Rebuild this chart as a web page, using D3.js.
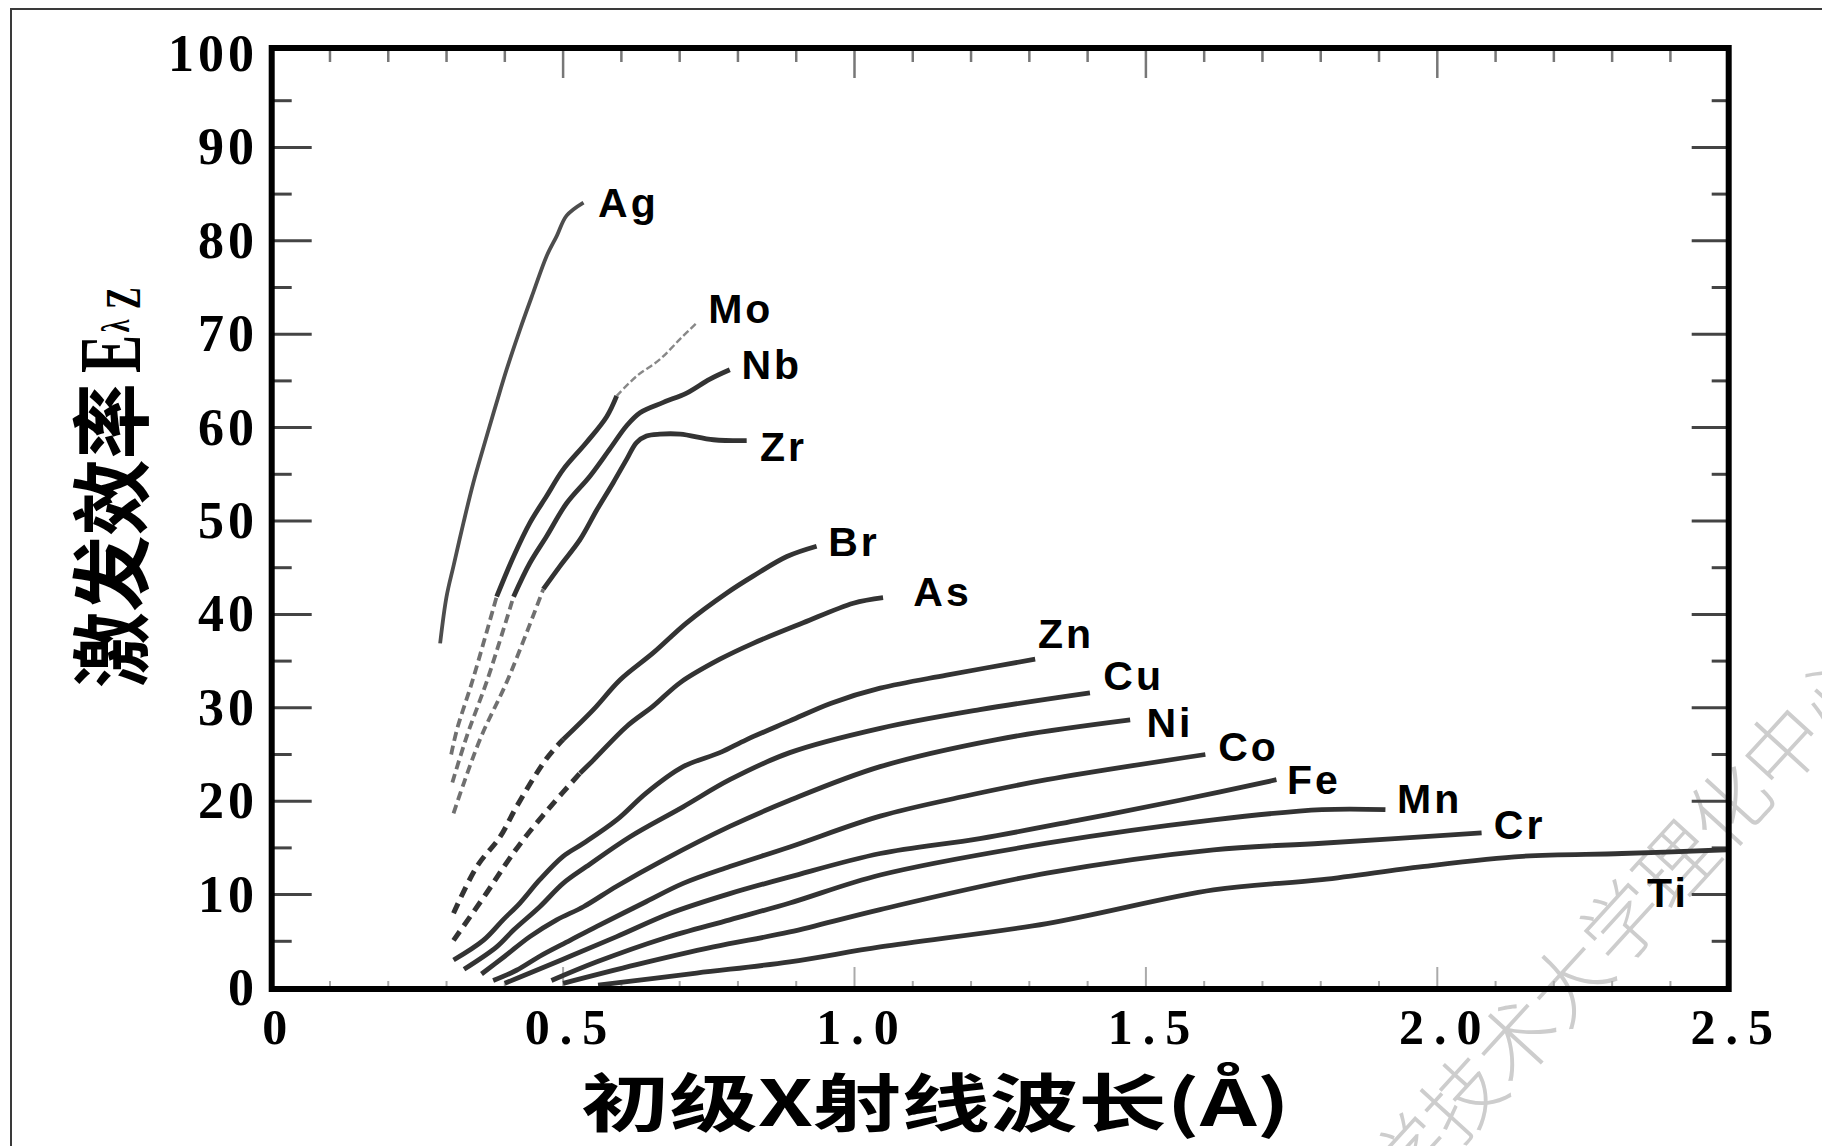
<!DOCTYPE html>
<html>
<head>
<meta charset="utf-8">
<script src="https://cdn.jsdelivr.net/npm/d3@7"></script>
<style>
body{margin:0;background:#fff}
svg{display:block}
</style>
</head>
<body>
<svg id="chart" width="1822" height="1146"></svg>
<script>
// element symbols, in the order the curves are stacked (top to bottom)
var elements = ['Ag','Mo','Nb','Zr','Br','As','Zn','Cu','Ni','Co','Fe','Mn','Cr','Ti']

// [primary wavelength (A), excitation efficiency]
var ag_pts = [[0.289,36.9],[0.300,41.9],[0.312,45.2],[0.329,49.8],[0.346,54.1],[0.369,59.1],[0.386,62.7],[0.403,66.2],[0.426,70.5],[0.449,74.5],[0.472,78.4],[0.489,80.5],[0.506,82.7],[0.535,84.1]]
var mo_pts = [[0.308,25.0],[0.318,27.7],[0.345,33.0],[0.386,41.9],[0.415,46.2],[0.443,49.8],[0.472,52.7],[0.500,55.5],[0.540,58.4],[0.575,61.2],[0.592,63.4],[0.626,65.5],[0.666,67.3],[0.701,69.5],[0.729,71.2]]
var nb_pts = [[0.310,22.0],[0.335,27.0],[0.370,33.0],[0.415,41.9],[0.443,45.5],[0.472,48.4],[0.506,51.9],[0.546,54.8],[0.580,57.7],[0.609,60.2],[0.632,61.6],[0.672,62.7],[0.712,63.7],[0.752,65.2],[0.786,66.2]]
var zr_pts = [[0.312,18.7],[0.330,22.0],[0.360,27.0],[0.405,33.0],[0.466,42.7],[0.495,45.2],[0.529,48.0],[0.558,51.2],[0.586,54.1],[0.609,56.6],[0.626,58.4],[0.643,59.1],[0.666,59.3],[0.701,59.3],[0.758,58.7],[0.815,58.6]]
var br_pts = [[0.312,8.0],[0.352,13.0],[0.392,16.2],[0.420,19.4],[0.472,24.6],[0.500,26.6],[0.552,29.8],[0.598,33.0],[0.655,35.9],[0.712,39.1],[0.781,42.3],[0.826,44.1],[0.884,46.2],[0.935,47.3]]
var as_pts = [[0.312,5.1],[0.369,10.2],[0.403,13.4],[0.432,15.9],[0.478,19.4],[0.529,23.0],[0.552,24.4],[0.609,28.0],[0.655,30.2],[0.701,32.7],[0.769,35.2],[0.826,36.9],[0.912,39.1],[0.998,41.2],[1.049,41.8]]
var zn_pts = [[0.312,3.0],[0.363,5.1],[0.397,7.3],[0.426,9.1],[0.460,11.6],[0.500,14.1],[0.535,15.5],[0.592,18.0],[0.643,20.9],[0.706,23.7],[0.769,25.2],[0.815,26.6],[0.889,28.6],[0.960,30.5],[1.044,32.1],[1.158,33.5],[1.310,35.2]]
var cu_pts = [[0.330,2.0],[0.386,4.4],[0.415,6.2],[0.460,8.7],[0.500,11.2],[0.540,13.0],[0.615,16.2],[0.706,19.4],[0.786,22.3],[0.889,25.2],[1.044,27.8],[1.215,29.8],[1.404,31.6]]
var ni_pts = [[0.360,1.5],[0.400,3.4],[0.443,5.5],[0.489,7.3],[0.535,8.7],[0.592,10.9],[0.672,13.7],[0.786,17.3],[0.889,20.1],[1.044,23.7],[1.244,26.6],[1.473,28.7]]
var co_pts = [[0.380,0.8],[0.420,1.9],[0.460,3.4],[0.512,5.1],[0.558,6.6],[0.638,9.1],[0.706,11.2],[0.786,13.0],[0.889,15.1],[1.044,18.4],[1.187,20.5],[1.330,22.3],[1.602,25.0]]
var fe_pts = [[0.400,0.5],[0.443,1.6],[0.512,3.4],[0.592,5.5],[0.684,8.0],[0.786,10.1],[0.889,11.9],[1.044,14.4],[1.215,16.0],[1.387,18.0],[1.558,20.1],[1.724,22.3]]
var mn_pts = [[0.480,0.8],[0.558,2.8],[0.672,5.3],[0.786,7.3],[0.889,9.1],[1.044,12.1],[1.330,15.5],[1.616,18.0],[1.802,19.1],[1.911,19.1]]
var cr_pts = [[0.500,0.5],[0.626,2.5],[0.758,4.4],[0.889,6.0],[1.044,8.4],[1.330,12.3],[1.616,14.8],[1.802,15.5],[2.076,16.6]]
var ti_pts = [[0.560,0.3],[0.729,1.6],[0.889,2.8],[1.044,4.4],[1.330,6.9],[1.616,10.5],[1.802,11.6],[1.974,13.0],[2.146,14.1],[2.317,14.4],[2.497,14.8]]

var curves = [ag_pts,mo_pts,nb_pts,zr_pts,br_pts,as_pts,zn_pts,cu_pts,ni_pts,co_pts,fe_pts,mn_pts,cr_pts,ti_pts]

// where each symbol is written (left end of the text, on its baseline)
var label_at = [[0.560,82.5],[0.749,71.2],[0.806,65.2],[0.838,56.4],[0.955,46.2],[1.101,40.9],[1.315,36.4],[1.427,31.9],[1.501,26.9],[1.624,24.3],[1.742,20.8],[1.931,18.7],[2.097,15.9],[2.360,8.7]]

var x_ticks = [0,0.5,1.0,1.5,2.0,2.5]
var x_tick_labels = ['0','0.5','1.0','1.5','2.0','2.5']
var y_ticks = [0,10,20,30,40,50,60,70,80,90,100]

var x_title = '初级X射线波长(Å)'
var y_title = '激发效率'
var watermark = '科学技术大学理化中心'

// parts of a curve that were printed broken / faint in the original
var dash_below = {Br:0.500, As:0.529}
var faint_below = {Mo:0.386, Nb:0.415, Zr:0.466}
var thin_above = {Mo:0.592}

var svg = d3.select('#chart')
var W = 1822, H = 1146
var p_left = 271.7, p_right = 1728.7, p_top = 48, p_bottom = 989

var x = d3.scaleLinear().domain([0,2.5]).range([p_left,p_right])
var y = d3.scaleLinear().domain([0,100]).range([988,54])

svg.append('rect').attr('width',W).attr('height',H).attr('fill','#fff')

// watermark of the source scan (behind everything)
svg.append('text')
    .attr('transform','translate(1326,1240) rotate(-47.6)')
    .attr('dominant-baseline','central')
    .attr('font-family','"Noto Sans CJK SC", sans-serif')
    .attr('font-weight',300)
    .attr('font-size',79)
    .attr('fill','#cdcdcd')
    .text(watermark)

// outer frame of the scan (only top and left edges show)
svg.append('path')
    .attr('d','M11,'+H+' V9 H'+W)
    .attr('fill','none')
    .attr('stroke','#3a3a3a')
    .attr('stroke-width',2)

// minor/major ticks, all pointing inside the frame
var ticks = svg.append('g').attr('stroke','#444')
d3.range(5,100,5).forEach(function(v){
    var len = (v%10==0) ? 40 : 20
    ticks.append('line').attr('x1',p_left).attr('x2',p_left+len)
	.attr('y1',y(v)).attr('y2',y(v)).attr('stroke-width',3)
    ticks.append('line').attr('x1',p_right).attr('x2',p_right-len+3)
	.attr('y1',y(v)).attr('y2',y(v)).attr('stroke-width',3)
})
d3.range(1,25).forEach(function(i){
    var v = i/10
    var major = (i%5==0)
    ticks.append('line').attr('x1',x(v)).attr('x2',x(v))
	.attr('y1',p_top).attr('y2',p_top+(major?30:14))
	.attr('stroke-width',2.5).attr('stroke','#777')
    ticks.append('line').attr('x1',x(v)).attr('x2',x(v))
	.attr('y1',p_bottom).attr('y2',p_bottom-(major?22:8))
	.attr('stroke-width',2).attr('stroke','#aaa')
})

// curves
var line = d3.line()
    .x(function(d){return x(d[0])})
    .y(function(d){return y(d[1])})
    .curve(d3.curveCatmullRom.alpha(0.5))

var lines = svg.append('g').attr('fill','none').attr('stroke-linecap','butt')
curves.forEach(function(pts,i){
    var el = elements[i]
    var lo = dash_below[el] || faint_below[el]
    var hi = thin_above[el]
    var main = pts.filter(function(d){
	return (lo===undefined || d[0]>=lo) && (hi===undefined || d[0]<=hi)})
    lines.append('path').attr('d',line(main))
	.attr('stroke', el=='Ag' ? '#4d4d4d' : '#333')
	.attr('stroke-width', el=='Ag' ? 3.8 : 4.8)
    if(dash_below[el]!==undefined){
	lines.append('path').attr('d',line(pts.filter(function(d){return d[0]<=lo})))
	    .attr('stroke','#333').attr('stroke-width',5)
	    .attr('stroke-dasharray','11,7')
    }
    if(faint_below[el]!==undefined){
	lines.append('path').attr('d',line(pts.filter(function(d){return d[0]<=lo})))
	    .attr('stroke','#707070').attr('stroke-width',3.8)
	    .attr('stroke-dasharray','9,5')
    }
    if(hi!==undefined){
	lines.append('path').attr('d',line(pts.filter(function(d){return d[0]>=hi})))
	    .attr('stroke','#888').attr('stroke-width',2.4)
	    .attr('stroke-dasharray','7,3')
    }
})

// curve names
svg.append('g').selectAll('text').data(elements).join('text')
    .attr('x',function(d,i){return x(label_at[i][0])})
    .attr('y',function(d,i){return y(label_at[i][1])})
    .attr('font-family','"Liberation Sans", Arial, sans-serif')
    .attr('font-weight','bold')
    .attr('font-size',41)
    .attr('letter-spacing',3)
    .attr('fill','#000')
    .text(function(d){return d})

// plot frame
svg.append('rect')
    .attr('x',p_left).attr('y',p_top)
    .attr('width',p_right-p_left).attr('height',p_bottom-p_top)
    .attr('fill','none').attr('stroke','#000').attr('stroke-width',6)

// tick labels
svg.append('g').selectAll('text').data(y_ticks).join('text')
    .attr('x',258)
    .attr('y',function(d){return y(d)+17})
    .attr('text-anchor','end')
    .attr('font-family','"Liberation Serif", "Times New Roman", serif')
    .attr('font-weight','bold')
    .attr('font-size',52)
    .attr('letter-spacing',4)
    .text(function(d){return d})

svg.append('g').selectAll('text').data(x_ticks).join('text')
    .attr('x',function(d){return x(d)+8})
    .attr('y',1044)
    .attr('text-anchor','middle')
    .attr('font-family','"Liberation Serif", "Times New Roman", serif')
    .attr('font-weight','bold')
    .attr('font-size',50)
    .attr('letter-spacing',10)
    .text(function(d,i){return x_tick_labels[i]})

// axis titles
svg.append('text')
    .attr('x',(581+1290)/2).attr('y',1126)
    .attr('text-anchor','middle')
    .attr('font-family','"Noto Sans CJK SC", sans-serif')
    .attr('font-weight','bold')
    .attr('font-size',63)
    .attr('textLength',709)
    .attr('lengthAdjust','spacingAndGlyphs')
    .text(x_title)

svg.append('text')
    .attr('transform','translate(141,688) rotate(-90)')
    .attr('font-family','"Noto Sans CJK SC", sans-serif')
    .attr('font-weight','bold')
    .attr('font-size',80)
    .attr('textLength',305)
    .attr('lengthAdjust','spacingAndGlyphs')
    .text(y_title)

var ysub = svg.append('text')
    .attr('transform','translate(140,373) rotate(-90) scale(0.65,1)')
    .attr('font-family','"Liberation Serif", serif')
    .attr('font-weight','bold')
ysub.append('tspan').attr('font-size',88).text('E')
ysub.append('tspan').attr('font-size',40).attr('dx',4).attr('dy',-11).text('λ')
ysub.append('tspan').attr('font-size',50).attr('dx',16).attr('dy',11).text('Z')
</script>
</body>
</html>
